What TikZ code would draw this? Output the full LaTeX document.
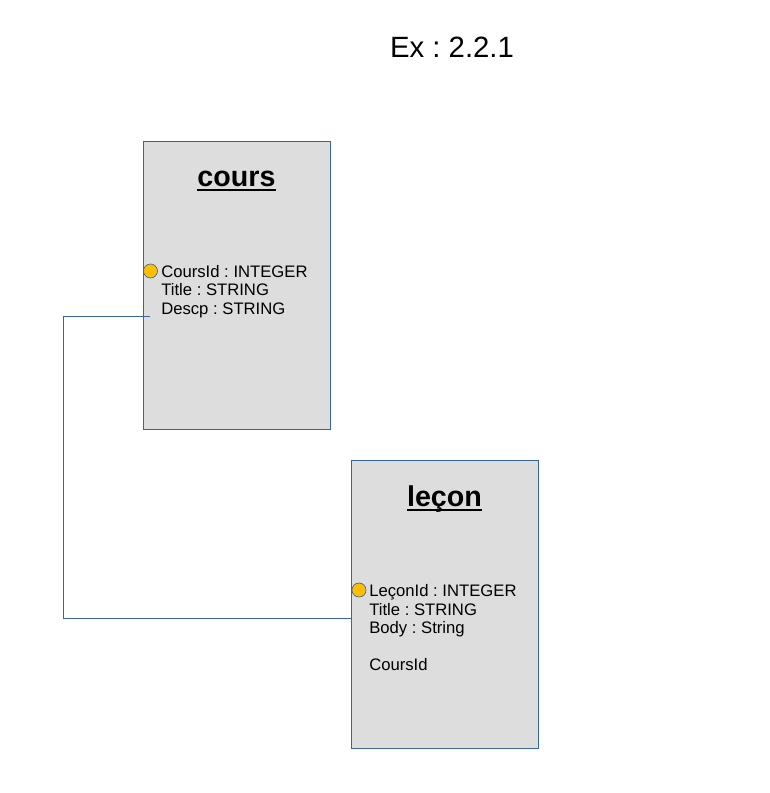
\documentclass[tikz,border=0pt]{standalone}
\usepackage{fontspec}
\setmainfont{Liberation Sans}
\usepackage{xcolor}
\usetikzlibrary{positioning,calc}
\frenchspacing

\definecolor{boxgray}{HTML}{DDDDDD}
\definecolor{boxblue}{HTML}{3465A4}
\definecolor{keygold}{HTML}{FFBF00}

\newcommand{\titleul}[1]{\setbox0\hbox{#1}\rlap{\vrule height -1.8pt depth 3.3pt width \wd0}\box0}

\tikzset{
  entity/.style={draw=boxblue, line width=0.75pt, fill=boxgray, minimum width=140.25pt, minimum height=216pt, anchor=north west, inner sep=0},
  etitle/.style={anchor=base, inner sep=0, font=\fontsize{21.5}{26}\selectfont\bfseries},
  attr/.style={anchor=base west, inner sep=0, font=\fontsize{12.5}{15}\selectfont},
  keydot/.style={circle, draw=boxblue, line width=0.5pt, fill=keygold, minimum size=10.5pt, inner sep=0},
  link/.style={draw=boxblue, line width=0.75pt}
}

\begin{document}
\begin{tikzpicture}[x=0.75pt, y=-0.75pt]
\useasboundingbox (0,0) rectangle (769,793);

\node[anchor=base, inner sep=0, font=\fontsize{22}{26}\selectfont] (extitle) at (452,57.5) {Ex : 2.2.1};

% Entities
\node[entity] (cours) at (143,141) {};
\node[entity] (lecon) at (351,460) {};

\node[etitle] (courstitle) at (236.5,186.5) {\titleul{cours}};
\node[etitle] (lecontitle) at (444.5,506.5) {\titleul{leçon}};

% Attributes of cours
\node[attr] (coursid) at (161,277) {CoursId : INTEGER};
\node[attr] (courstitlea) at (161,295.5) {Title : STRING};
\node[attr] (coursdescp) at (161,314) {Descp : STRING};

% Attributes of lecon
\node[attr] (leconid) at (369,596.5) {LeçonId : INTEGER};
\node[attr] (lecontitlea) at (369,615) {Title : STRING};
\node[attr] (leconbody) at (369,633.5) {Body : String};
\node[attr] (leconfkey) at (369,670) {CoursId};

% Primary keys
\node[keydot] (courskey) at (150.5,271) {};
\node[keydot] (leconkey) at (359,590) {};

% Relation
\coordinate (coursfk) at (150,316);
\coordinate (leconfk) at (lecon.west |- 0,618);
\draw[link] (coursfk) -- (63,316) |- (leconfk);
\end{tikzpicture}
\end{document}
